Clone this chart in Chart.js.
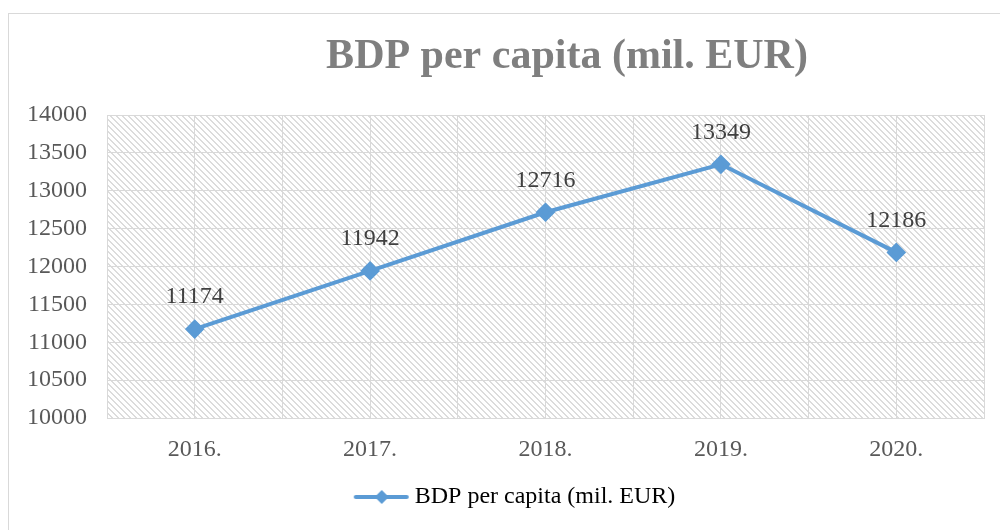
<!DOCTYPE html>
<html>
<head>
<meta charset="utf-8">
<script src="https://cdn.jsdelivr.net/npm/chart.js@4/dist/chart.umd.min.js"></script>
<style>
    html, body { margin: 0; padding: 0; overflow: hidden; background: #fff; }
    #wrap { position: relative; width: 1000px; height: 530px; }
    #frame { position: absolute; left: 8px; top: 13px; width: 1100px; height: 600px;
             border: 1px solid #d9d9d9; pointer-events: none; }
</style>
</head>
<body>
<div id="wrap">
    <canvas id="bdpChart" width="1000" height="530"></canvas>
    <div id="frame"></div>
</div>
<script>
const years = ['2016.', '2017.', '2018.', '2019.', '2020.'];
const bdpValues = [11174, 11942, 12716, 13349, 12186];
const seriesName = 'BDP per capita (mil. EUR)';
const chartTitle = 'BDP per capita (mil. EUR)';

const BLUE = '#5b9bd5';
const GRID = '#d9d9d9';
const SERIF = '"Liberation Serif", "Times New Roman", serif';

// hatched fill for the plot area
function makeHatch() {
    const c = document.createElement('canvas');
    c.width = 6;
    c.height = 6;
    const g = c.getContext('2d');
    g.fillStyle = '#fff';
    g.fillRect(0, 0, 6, 6);
    g.fillStyle = '#dcdcdc';
    for (let y = 0; y < 6; y++) {
        for (let x = 0; x < 6; x++) {
            const d = ((x - y) % 6 + 6) % 6;
            if (d === 0 || d === 1) g.fillRect(x, y, 1, 1);
        }
    }
    return c;
}

// legend marker: line with diamond (image is wider than the legend box on purpose)
function makeLegendMarker() {
    const c = document.createElement('canvas');
    c.width = 110;
    c.height = 16;
    const g = c.getContext('2d');
    g.strokeStyle = BLUE;
    g.lineWidth = 4;
    g.lineCap = 'round';
    g.beginPath();
    g.moveTo(55, 8);
    g.lineTo(106, 8);
    g.stroke();
    g.fillStyle = BLUE;
    g.beginPath();
    g.moveTo(81, 1);
    g.lineTo(88, 8);
    g.lineTo(81, 15);
    g.lineTo(74, 8);
    g.closePath();
    g.fill();
    return c;
}

const hatchPlugin = {
    id: 'hatch',
    beforeDraw(chart) {
        const { ctx, chartArea } = chart;
        ctx.save();
        ctx.fillStyle = ctx.createPattern(makeHatch(), 'repeat');
        ctx.fillRect(chartArea.left, chartArea.top, chartArea.right - chartArea.left, chartArea.bottom - chartArea.top);
        ctx.restore();
    }
};

const titlePlugin = {
    id: 'offsetTitle',
    afterDraw(chart) {
        const ctx = chart.ctx;
        ctx.save();
        ctx.font = 'bold 42px ' + SERIF;
        ctx.fillStyle = '#7f7f7f';
        ctx.textAlign = 'center';
        ctx.textBaseline = 'middle';
        ctx.fillText(chartTitle, 567, 57);
        ctx.restore();
    }
};

const valueLabels = {
    id: 'valueLabels',
    afterDatasetsDraw(chart) {
        const ctx = chart.ctx;
        const meta = chart.getDatasetMeta(0);
        ctx.save();
        ctx.font = '24px ' + SERIF;
        ctx.fillStyle = '#404040';
        ctx.textAlign = 'center';
        ctx.textBaseline = 'middle';
        meta.data.forEach((pt, i) => {
            ctx.fillText(String(bdpValues[i]), pt.x, pt.y - 32);
        });
        ctx.restore();
    }
};

const marker = makeLegendMarker();

new Chart(document.getElementById('bdpChart').getContext('2d'), {
    type: 'line',
    data: {
        labels: years,
        datasets: [{
            label: seriesName,
            data: bdpValues,
            borderColor: BLUE,
            backgroundColor: BLUE,
            borderWidth: 4,
            pointStyle: 'rectRot',
            pointRadius: 7,
            pointBackgroundColor: BLUE,
            pointBorderColor: BLUE,
            tension: 0
        }]
    },
    options: {
        responsive: false,
        animation: false,
        layout: { padding: { top: 115, left: 0, right: 16, bottom: 11 } },
        plugins: {
            title: { display: false },
            tooltip: { enabled: false },
            legend: {
                position: 'bottom',
                labels: {
                    usePointStyle: true,
                    pointStyle: marker,
                    pointStyleWidth: 94,
                    color: '#595959',
                    font: { family: SERIF, size: 24 },
                    padding: 10,
                    generateLabels: chart => [{
                        text: seriesName,
                        pointStyle: marker,
                        fillStyle: BLUE,
                        strokeStyle: BLUE,
                        lineWidth: 0,
                        hidden: false,
                        datasetIndex: 0
                    }]
                }
            }
        },
        scales: {
            x: {
                type: 'category',
                offset: true,
                grid: { display: false },
                border: { display: true, color: GRID },
                ticks: { color: '#595959', font: { family: SERIF, size: 24 }, padding: 9 },
                afterFit(scale) { scale.height = 57; }
            },
            x2: {
                type: 'linear',
                position: 'bottom',
                min: -0.5,
                max: 4.5,
                ticks: { display: false, stepSize: 0.5 },
                grid: { color: GRID, drawTicks: false },
                border: { display: false },
                afterFit(scale) { scale.height = 0; }
            },
            y: {
                min: 10000,
                max: 14000,
                ticks: {
                    stepSize: 500,
                    color: '#595959',
                    font: { family: SERIF, size: 24 },
                    padding: 20,
                    callback: value => String(value)
                },
                grid: { color: GRID, drawTicks: false },
                border: { display: true, color: GRID },
                afterFit(scale) { scale.width = 107; }
            }
        }
    },
    plugins: [hatchPlugin, titlePlugin, valueLabels]
});
</script>
</body>
</html>
